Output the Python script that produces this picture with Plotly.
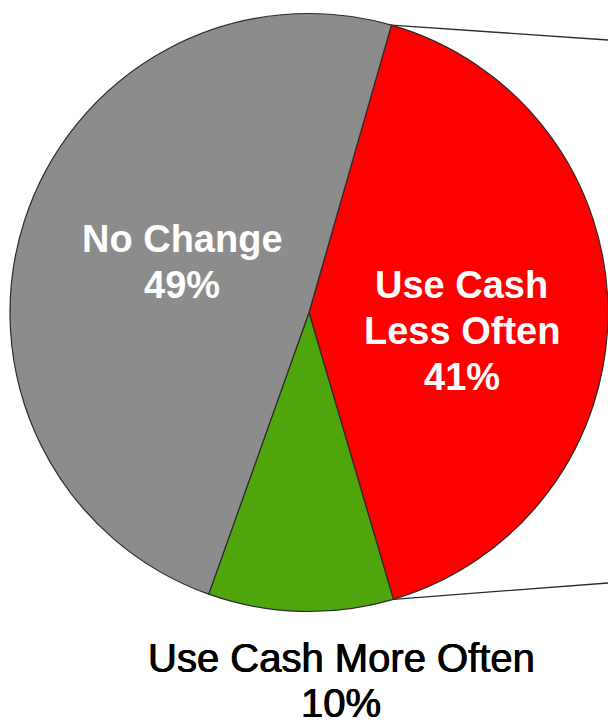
import math
import plotly.graph_objects as go

# Survey: change in cash usage
labels = ["Use Cash Less Often", "Use Cash More Often", "No Change"]
label_lines = [["Use Cash", "Less Often"], ["Use Cash More Often"], ["No Change"]]
values = [41, 10, 49]
colors = ["#FF0000", "#4EA60C", "#8C8C8C"]
text_colors = ["white", "black", "white"]

W, H = 608, 724
ROTATION = 16  # degrees clockwise from 12 o'clock where the first slice starts
FONT = "Arial, Liberation Sans, sans-serif"

# pie domain (paper fractions)
dom_x = [10 / W, 1.0]
dom_y = [1 - 612.5 / H, 1 - 12.5 / H]

fig = go.Figure(
    go.Pie(
        labels=labels,
        values=values,
        sort=False,
        direction="clockwise",
        rotation=ROTATION,
        marker=dict(colors=colors, line=dict(color="#2b2b2b", width=1.2)),
        textinfo="none",
        hoverinfo="label+percent",
        showlegend=False,
        domain=dict(x=dom_x, y=dom_y),
    )
)

# pie geometry in pixels, used for the connector lines
cx = (dom_x[0] + dom_x[1]) / 2 * W
cy = H - (dom_y[0] + dom_y[1]) / 2 * H
r = min((dom_x[1] - dom_x[0]) * W, (dom_y[1] - dom_y[0]) * H) / 2
total = sum(values)


def edge_point(angle_deg):
    a = math.radians(angle_deg)
    return cx + r * math.sin(a), cy - r * math.cos(a)


start_deg = ROTATION
end_deg = ROTATION + 360 * values[0] / total
p_top = edge_point(start_deg)
p_bot = edge_point(end_deg)

shapes = []
for (px, py), y_end in [(p_top, 40), (p_bot, 583)]:
    shapes.append(
        dict(
            type="line", xref="paper", yref="paper",
            x0=px / W, y0=1 - py / H, x1=1.0, y1=1 - y_end / H,
            line=dict(color="#2b2b2b", width=1.3),
        )
    )

# slice labels: name lines + percentage, one annotation per line
# (x centre, y centre of first line, line step, font size, bold, shadow)
label_pos = [
    (462, 285, 46, 38, True, "none"),
    (341, 658, 45, 40, False, "0.5px 0 0 black, -0.4px 0 0 black"),
    (182, 239, 46, 38, True, "none"),
]
annotations = []
for lines, v, tc, (lx, ly, step, fs, bold, shadow) in zip(
    label_lines, values, text_colors, label_pos
):
    for i, line in enumerate(lines + [f"{v}%"]):
        annotations.append(
            dict(
                x=lx / W, y=1 - (ly + i * step) / H, xref="paper", yref="paper",
                text=f"<b>{line}</b>" if bold else line, showarrow=False,
                xanchor="center", yanchor="middle", align="center",
                font=dict(family=FONT, size=fs, color=tc, shadow=shadow),
            )
        )

fig.update_layout(
    width=W, height=H,
    margin=dict(l=0, r=0, t=0, b=0),
    paper_bgcolor="white",
    plot_bgcolor="white",
    shapes=shapes,
    annotations=annotations,
)

fig.write_html("out.html")
